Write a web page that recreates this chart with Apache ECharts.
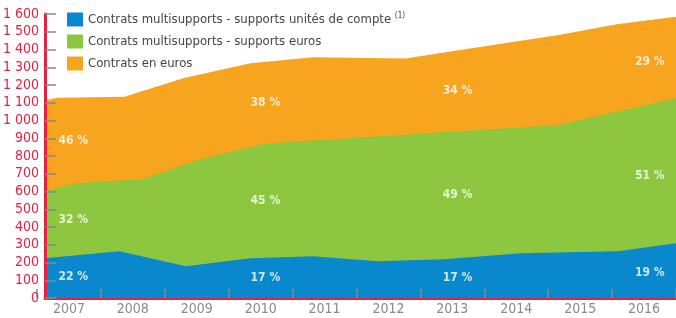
<!DOCTYPE html>
<html>
<head>
<meta charset="utf-8">
<script src="https://cdn.jsdelivr.net/npm/echarts@6/dist/echarts.min.js"></script>
<style>
  html, body { margin: 0; padding: 0; background: #fff; }
  #chart { width: 676px; height: 318px; }
</style>
</head>
<body>
<div id="chart"></div>
<script>
// années affichées sur l'axe
const years = ['2007', '2008', '2009', '2010', '2011', '2012', '2013', '2014', '2015', '2016'];

// limites supérieures des trois zones, [position en année, montant]
const ucTop = [
  [2006.56, 224], [2007.72, 263], [2008.76, 179], [2009.77, 224], [2010.74, 235],
  [2011.75, 207], [2012.79, 218], [2013.99, 252], [2015.50, 263], [2016.41, 309]
];
const eurosMsTop = [
  [2006.56, 603], [2007.03, 647], [2008.08, 669], [2008.99, 782], [2010.01, 871],
  [2012.29, 923], [2014.57, 974], [2016.41, 1126]
];
const eurosTop = [
  [2006.56, 1114], [2006.76, 1128], [2007.80, 1134], [2008.73, 1239], [2009.77, 1322],
  [2010.74, 1356], [2012.18, 1350], [2013.78, 1438], [2014.58, 1482], [2015.51, 1544],
  [2016.41, 1585]
];

// parts en %
const pctYears = [2007, 2010, 2013, 2016];
const ucPct = [22, 17, 17, 19];
const eurosMsPct = [32, 45, 49, 51];
const eurosPct = [46, 38, 34, 29];

const names = [
  'Contrats multisupports - supports unités de compte',
  'Contrats multisupports - supports euros',
  'Contrats en euros'
];
const colors = ['#0a88cd', '#8dc63f', '#f7a41e'];
const red = '#e8203f';
const narrow = "'Liberation Sans Narrow', 'DejaVu Sans Condensed', sans-serif";

function interp(line, x) {
  for (let i = 0; i < line.length - 1; i++) {
    const a = line[i], b = line[i + 1];
    if (x >= a[0] && x <= b[0]) {
      return a[1] + (b[1] - a[1]) * (x - a[0]) / (b[0] - a[0]);
    }
  }
  return line[line.length - 1][1];
}

// étiquettes au milieu de chaque zone
const pctLabels = [];
pctYears.forEach((y, i) => {
  const b = interp(ucTop, y), g = interp(eurosMsTop, y), o = interp(eurosTop, y);
  pctLabels.push([y, b / 2, ucPct[i]]);
  pctLabels.push([y, (b + g) / 2, eurosMsPct[i]]);
  pctLabels.push([y, (g + o) / 2, eurosPct[i]]);
});

function area(name, data, color) {
  return {
    name: name,
    type: 'line',
    xAxisIndex: 0,
    yAxisIndex: 0,
    data: data,
    symbol: 'none',
    lineStyle: { width: 0 },
    itemStyle: { color: color },
    areaStyle: { color: color, opacity: 1, origin: 'start' }
  };
}

const chart = echarts.init(document.getElementById('chart'));
chart.setOption({
  animation: false,
  grid: [
    { left: 41, right: 0, top: 14, bottom: 20 },
    { left: 37, right: -6, top: 14, bottom: 20 }
  ],
  legend: {
    orient: 'vertical',
    left: 67,
    top: 12,
    padding: 0,
    icon: 'rect',
    itemWidth: 16,
    itemHeight: 14,
    itemGap: 8,
    selectedMode: false,
    data: names,
    formatter: n => n === names[0] ? n + ' {sup|(1)}' : n,
    textStyle: {
      color: '#444',
      fontSize: 13,
      fontFamily: narrow,
      rich: {
        sup: { fontSize: 8, fontFamily: narrow, color: '#444', verticalAlign: 'top', padding: [0, 0, 7, 0] }
      }
    }
  },
  xAxis: [
    {
      type: 'value',
      gridIndex: 0,
      min: 2006.56,
      max: 2016.41,
      axisLine: { show: true, lineStyle: { color: red, width: 3 } },
      axisTick: { show: false },
      axisLabel: { show: false },
      splitLine: { show: false }
    },
    {
      type: 'category',
      gridIndex: 1,
      data: years,
      boundaryGap: true,
      axisLine: { show: false },
      axisTick: { show: true, inside: true, length: 9, lineStyle: { color: '#888', width: 1.5 } },
      axisLabel: { color: '#8a8a8a', fontSize: 14, fontFamily: narrow, margin: 4 },
      z: 5
    }
  ],
  yAxis: [
    {
      type: 'value',
      gridIndex: 0,
      min: 0,
      max: 1600,
      interval: 100,
      axisLine: { show: true, lineStyle: { color: red, width: 3 } },
      axisTick: { show: true, inside: true, length: 11, lineStyle: { color: '#888', width: 1.5 } },
      axisLabel: {
        color: red,
        fontSize: 14,
        fontFamily: narrow,
        margin: 6,
        formatter: v => String(v).replace(/\B(?=(\d{3})+(?!\d))/g, ' ')
      },
      splitLine: { show: false },
      z: 5
    },
    {
      type: 'value',
      gridIndex: 1,
      show: false,
      min: 0,
      max: 1600
    }
  ],
  series: [
    area(names[2], eurosTop, colors[2]),
    area(names[1], eurosMsTop, colors[1]),
    area(names[0], ucTop, colors[0]),
    {
      type: 'scatter',
      xAxisIndex: 0,
      yAxisIndex: 0,
      symbolSize: 0,
      data: pctLabels,
      z: 10,
      label: {
        show: true,
        position: 'inside',
        formatter: p => p.data[2] + ' %',
        color: '#fff',
        fontSize: 12,
        fontWeight: 'bold',
        fontFamily: narrow
      }
    }
  ]
});
</script>
</body>
</html>
